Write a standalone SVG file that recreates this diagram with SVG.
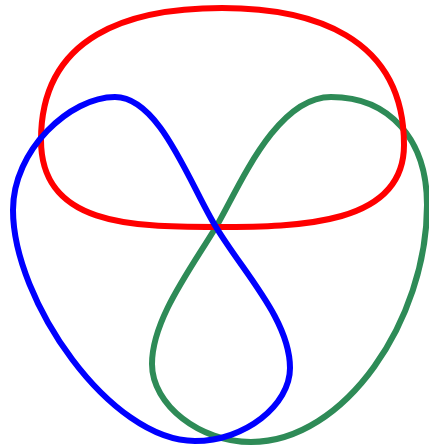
<svg xmlns="http://www.w3.org/2000/svg" width="429" height="447" viewBox="0 0 429 447">
<style>
.loop{fill:none;stroke-width:6;stroke-linejoin:round;stroke-linecap:round}
.red{stroke:#ff0000}
.blue{stroke:#0000ff}
.green{stroke:#2e8b57}
</style>
<rect width="429" height="447" fill="#ffffff"/>
<g id="connectors">
<g id="green-loop"><path class="loop green" d="M216 227 C238 190 275 97 331 97 C390 97 427 140 427 205 C427 320 345 442 251 442 C200 442 152 405 152 364 C152 320 190 270 216 227 Z"/></g>
<g id="red-loop"><path class="loop red" d="M216 227 C300 227 404 225 404 145 C404 35 310 8 222 8 C130 8 41 35 41 140 C41 225 130 227 216 227 Z"/></g>
<g id="blue-loop"><path class="loop blue" d="M216 227 C190 185 160 97 115 97 C70 97 13 150 13 210 C13 300 110 441 195 441 C245 441 290 405 290 368 C290 320 243 272 216 227 Z"/></g>
</g>
</svg>
